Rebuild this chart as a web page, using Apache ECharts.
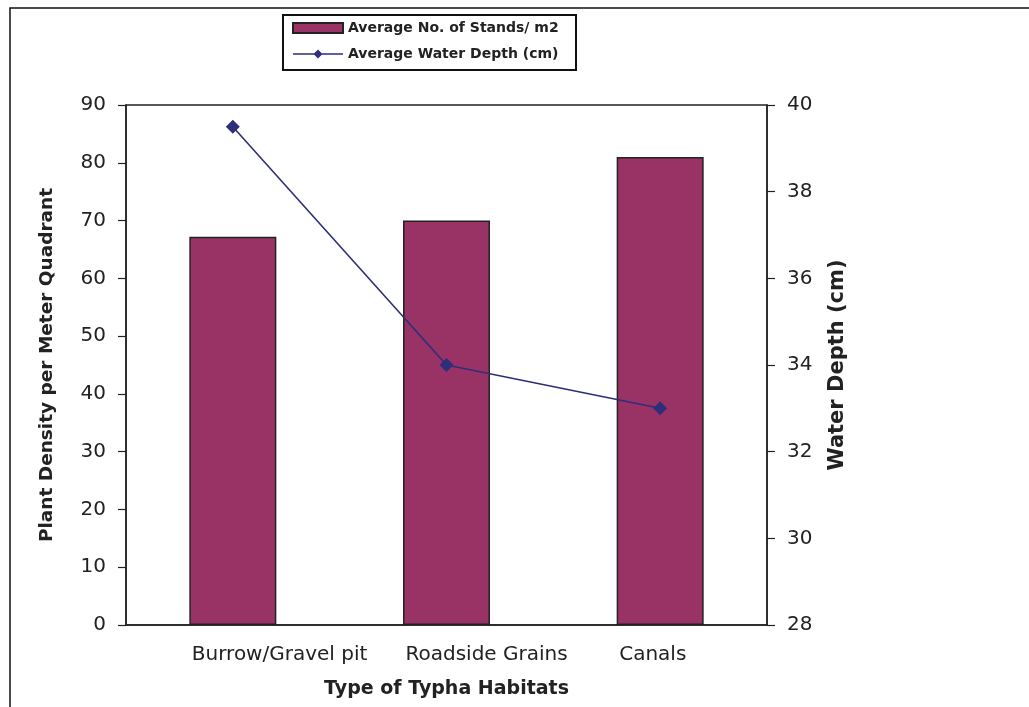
<!DOCTYPE html>
<html>
<head>
<meta charset="utf-8">
<script src="https://cdn.jsdelivr.net/npm/echarts@6/dist/echarts.min.js"></script>
<style>
html,body{margin:0;padding:0;background:#fff;}
#chart{width:1029px;height:707px;}
</style>
</head>
<body>
<div id="chart"></div>
<script>
const categories = ['Burrow/Gravel pit', 'Roadside Grains', 'Canals'];
const standsPerM2 = [67.2, 70, 81];
const waterDepth = [39.5, 34, 33];
const barName = 'Average No. of Stands/ m2';
const lineName = 'Average Water Depth (cm)';
const leftAxisName = 'Plant Density per Meter Quadrant';
const rightAxisName = 'Water Depth (cm)';
const xAxisName = 'Type of Typha Habitats';

const FONT = 'DejaVu Sans';
const lineIcon = 'path://M0,4.3L50,4.3L50,5.7L0,5.7Z M25,0.5L29.5,5L25,9.5L20.5,5Z';
const chart = echarts.init(document.getElementById('chart'), null, {renderer: 'canvas'});
chart.setOption({
  animation: false,
  backgroundColor: '#ffffff',
  graphic: [
    {type: 'rect', shape: {x: 10, y: 8, width: 1040, height: 720},
     style: {fill: 'none', stroke: '#111', lineWidth: 1.5}, silent: true, z: 0},
    {type: 'rect', shape: {x: 283, y: 15, width: 293, height: 55},
     style: {fill: '#fff', stroke: '#111', lineWidth: 2}, silent: true, z: 1}
  ],
  legend: {
    orient: 'vertical',
    left: 292,
    top: 21,
    padding: 0,
    itemGap: 12,
    itemWidth: 50,
    itemHeight: 10,
    z: 5,
    textStyle: {fontFamily: FONT, fontWeight: 'bold', fontSize: 14, color: '#222'},
    data: [{name: barName, icon: 'rect'}, {name: lineName, icon: lineIcon}]
  },
  grid: {
    left: 126, right: 262, top: 105, bottom: 82,
    show: true, borderColor: '#222', borderWidth: 1.5, backgroundColor: 'transparent'
  },
  xAxis: {
    type: 'category',
    data: categories,
    name: xAxisName,
    nameLocation: 'middle',
    nameGap: 55,
    nameTextStyle: {fontFamily: FONT, fontWeight: 'bold', fontSize: 19, color: '#222'},
    axisLine: {lineStyle: {color: '#222', width: 1.5}},
    axisTick: {show: false},
    axisLabel: {interval: 0, fontFamily: FONT, fontSize: 20, color: '#222', margin: 20,
                align: 'left', padding: [0, 0, 0, -41]}
  },
  yAxis: [
    {
      type: 'value', min: 0, max: 90, interval: 10, position: 'left',
      name: leftAxisName,
      nameLocation: 'middle',
      nameGap: 69,
      nameTextStyle: {fontFamily: FONT, fontWeight: 'bold', fontSize: 18.5, color: '#222'},
      axisLine: {show: true, lineStyle: {color: '#222', width: 1.5}},
      axisTick: {show: true, length: 8, lineStyle: {color: '#222', width: 1.2}},
      axisLabel: {fontFamily: FONT, fontSize: 20, color: '#222', margin: 20},
      splitLine: {show: false}
    },
    {
      type: 'value', min: 28, max: 40, interval: 2, position: 'right',
      name: rightAxisName,
      nameLocation: 'middle',
      nameGap: 60,
      nameRotate: 90,
      nameTextStyle: {fontFamily: FONT, fontWeight: 'bold', fontSize: 21, color: '#222'},
      axisLine: {show: true, lineStyle: {color: '#222', width: 1.5}},
      axisTick: {show: true, length: 8, lineStyle: {color: '#222', width: 1.2}},
      axisLabel: {fontFamily: FONT, fontSize: 20, color: '#222', margin: 20},
      splitLine: {show: false}
    }
  ],
  series: [
    {
      name: barName,
      type: 'bar',
      yAxisIndex: 0,
      data: standsPerM2,
      barWidth: 87,
      itemStyle: {color: '#993366', borderColor: '#222', borderWidth: 1.5}
    },
    {
      name: lineName,
      type: 'line',
      yAxisIndex: 1,
      data: waterDepth,
      symbol: 'diamond',
      symbolSize: 14,
      lineStyle: {color: '#2e2e7a', width: 1.6},
      itemStyle: {color: '#2e2e7a'}
    }
  ]
});
</script>
</body>
</html>
